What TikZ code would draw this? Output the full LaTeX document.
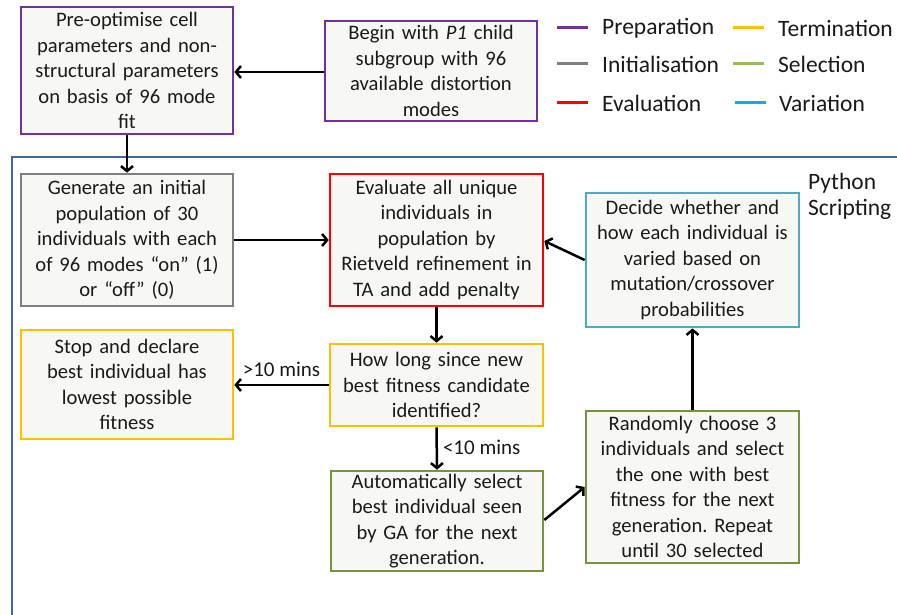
\documentclass[tikz,border=0pt]{standalone}
\usepackage{fontspec}
\setmainfont{Carlito}
\usetikzlibrary{arrows.meta}
\definecolor{prepc}{HTML}{7030A0}
\definecolor{initc}{HTML}{7F7F7F}
\definecolor{evalc}{HTML}{FF0000}
\definecolor{termc}{HTML}{FFC000}
\definecolor{selc}{HTML}{77933C}
\definecolor{sellegend}{HTML}{9BBB59}
\definecolor{varc}{HTML}{4BACC6}
\definecolor{varlegend}{HTML}{00B0F0}
\definecolor{boxfill}{HTML}{F7F7F3}
\definecolor{framec}{HTML}{41679B}
\definecolor{txt}{HTML}{1A1A1A}
\frenchspacing
\tikzset{
  stagebox/.style={draw=#1, line width=2.6pt, fill=boxfill, rectangle,
    align=center, inner sep=1pt, text=txt,
    font=\fontsize{20.6}{25.5}\selectfont},
  flow/.style={line width=2.5pt, -{Straight Barb[length=5pt,width=12pt,line width=2.5pt]}},
  legline/.style={line width=3pt, draw=#1},
  legtext/.style={anchor=west, font=\fontsize{23.5}{28}\selectfont, inner sep=0pt, text=txt},
  edgelabel/.style={font=\fontsize{21}{24}\selectfont, inner sep=0pt, text=txt}
}
\begin{document}
\begin{tikzpicture}[x=1pt,y=-1pt]
\useasboundingbox (0,0) rectangle (897,614);
\clip (0,0) rectangle (897,614);
\fill[white] (0,0) rectangle (897,614);

% Python scripting frame (runs off the page to the right and bottom)
\draw[framec, line width=2pt] (12,157) rectangle (920,630);
\node[anchor=north west, align=left, inner sep=0pt, text=txt,
  font=\fontsize{23.5}{26}\selectfont] (py) at (808,173) {Python\\Scripting};

% Preparation
\node[stagebox=prepc, minimum width=212pt, minimum height=127pt, text width=208pt]
  (prep) at (127,70.5) {Pre-optimise cell\\parameters and non-\\structural parameters\\on basis of 96 mode\\fit};
\node[stagebox=prepc, minimum width=212pt, minimum height=100pt, text width=208pt]
  (begin) at (431,71) {Begin with \textit{P1} child\\subgroup with 96\\available distortion\\modes};

% Loop
\node[stagebox=initc, minimum width=212pt, minimum height=132pt, text width=208pt]
  (gen) at (127,240) {Generate an initial\\population of 30\\individuals with each\\of 96 modes “on” (1)\\or “off” (0)};
\node[stagebox=evalc, minimum width=213pt, minimum height=132pt, text width=208pt]
  (eval) at (436.5,240) {Evaluate all unique\\individuals in\\population by\\Rietveld refinement in\\TA and add penalty};
\node[stagebox=varc, minimum width=213pt, minimum height=134pt, text width=208pt]
  (vary) at (692.5,260) {Decide whether and\\how each individual is\\varied based on\\mutation/crossover\\probabilities};
\node[stagebox=termc, minimum width=212pt, minimum height=109pt, text width=208pt]
  (stop) at (127,384.5) {Stop and declare\\best individual has\\lowest possible\\fitness};
\node[stagebox=termc, minimum width=213pt, minimum height=82pt, text width=208pt]
  (howlong) at (436.5,385) {How long since new\\best fitness candidate\\identified?};
\node[stagebox=selc, minimum width=212pt, minimum height=100pt, text width=208pt]
  (auto) at (437,521) {Automatically select\\best individual seen\\by GA for the next\\generation.};
\node[stagebox=selc, minimum width=213pt, minimum height=152pt, text width=208pt]
  (rand) at (692.5,487) {Randomly choose 3\\individuals and select\\the one with best\\fitness for the next\\generation. Repeat\\until 30 selected};

% Connectors
\draw[flow] (begin.west |- 0,72) -- (prep.east |- 0,72);
\draw[flow] (prep.south) -- (gen.north);
\draw[flow] (gen.east) -- (eval.west);
\draw[flow] (eval.south) -- (howlong.north);
\draw[flow] (howlong.west) -- node[edgelabel, above=7pt] (gt) {>10 mins} (stop.east |- howlong.west);
\draw[flow] (howlong.south) -- node[edgelabel, right=5pt, yshift=1pt] (lt) {<10 mins} (auto.north);
\coordinate (autoout) at (auto.east |- 0,520);
\coordinate (randin) at (rand.west |- 0,487);
\draw[flow] (autoout) -- (randin);
\draw[flow] (rand.north) -- (vary.south);
\coordinate (varyout) at (vary.west |- 0,260);
\coordinate (evalin) at (eval.east |- 0,241);
\draw[flow] (varyout) -- (evalin);

% Legend
\coordinate (l1a) at (557,27);  \coordinate (l1b) at (588,27);
\coordinate (l2a) at (557,63);  \coordinate (l2b) at (588,63);
\coordinate (l3a) at (557,102); \coordinate (l3b) at (588,102);
\coordinate (l4a) at (733,27);  \coordinate (l4b) at (764,27);
\coordinate (l5a) at (733,63);  \coordinate (l5b) at (764,63);
\coordinate (l6a) at (735,102); \coordinate (l6b) at (766,102);
\draw[legline=prepc] (l1a) -- (l1b);
\draw[legline=initc] (l2a) -- (l2b);
\draw[legline=evalc] (l3a) -- (l3b);
\draw[legline=termc] (l4a) -- (l4b);
\draw[legline=sellegend] (l5a) -- (l5b);
\draw[legline=varlegend] (l6a) -- (l6b);
\node[legtext] (t1) at (602,28) {Preparation};
\node[legtext] (t2) at (602,64) {Initialisation};
\node[legtext] (t3) at (602,103) {Evaluation};
\node[legtext] (t4) at (778,28) {Termination};
\node[legtext] (t5) at (778,64) {Selection};
\node[legtext] (t6) at (779,103) {Variation};
\end{tikzpicture}
\end{document}
